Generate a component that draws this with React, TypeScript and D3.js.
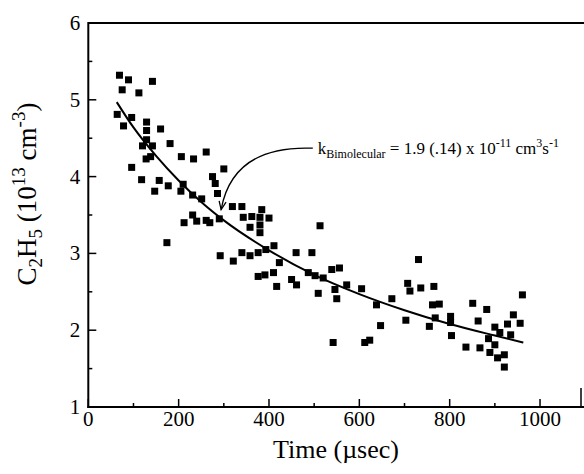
import React from "react";
import * as d3 from "d3";

const W = 584;
const H = 474;

// Measured points: [time (µs), C2H5 (1e13 cm^-3)]
const pointsT = [
  69, 89, 142, 75, 112, 64, 96, 78, 129, 129, 160, 129, 120, 142, 181, 128, 138, 206, 233, 261, 96, 118, 157, 177, 147, 210, 205,
  231, 251, 231, 212, 240, 261, 174,
  300, 275, 281, 286, 319, 340, 384, 343, 362, 380, 400, 380, 358, 380, 269, 290, 513, 292, 321, 340, 358, 376, 393, 411, 423, 460, 495, 376, 391, 410, 417, 450, 461, 487, 502, 520, 539, 556, 572, 509, 546,
  731, 550, 605, 638, 672, 707, 712, 736, 765, 762, 777, 768, 802, 802, 851, 863, 647, 703, 755,
  961, 882, 941, 928, 956, 900, 911, 935, 886, 900, 836, 867, 889, 906, 921, 921,
  804, 542, 612, 623,
];
const pointsV = [
  5.32, 5.26, 5.24, 5.13, 5.09, 4.81, 4.77, 4.66, 4.71, 4.6, 4.62, 4.48, 4.4, 4.4, 4.43, 4.23, 4.26, 4.26, 4.23, 4.32, 4.12, 3.96, 3.95, 3.88, 3.81, 3.9, 3.81,
  3.76, 3.71, 3.5, 3.4, 3.42, 3.43, 3.14,
  4.1, 4.0, 3.91, 3.78, 3.61, 3.61, 3.57, 3.47, 3.48, 3.47, 3.46, 3.37, 3.34, 3.27, 3.4, 3.45, 3.36, 2.97, 2.9, 3.01, 2.97, 3.01, 3.05, 3.1, 2.88, 3.01, 3.01, 2.7, 2.72, 2.75, 2.57, 2.66, 2.59, 2.75, 2.71, 2.68, 2.79, 2.81, 2.59, 2.48, 2.53,
  2.92, 2.41, 2.54, 2.33, 2.41, 2.61, 2.51, 2.55, 2.57, 2.33, 2.34, 2.16, 2.18, 2.1, 2.35, 2.12, 2.06, 2.13, 2.05,
  2.46, 2.27, 2.2, 2.08, 2.09, 2.04, 1.97, 1.94, 1.89, 1.81, 1.78, 1.77, 1.71, 1.64, 1.68, 1.52,
  1.93, 1.84, 1.84, 1.87,
];

// Fit curve
const fitT = [63, 100, 150, 200, 250, 300, 400, 500, 600, 700, 800, 900, 963];
const fitV = [4.97, 4.64, 4.27, 3.95, 3.67, 3.43, 3.04, 2.72, 2.47, 2.26, 2.08, 1.93, 1.84];

const xMajor = [0, 200, 400, 600, 800, 1000];
const xMinor = [100, 300, 500, 700, 900];
const yMajor = [1, 2, 3, 4, 5, 6];
const yMinor = [1.5, 2.5, 3.5, 4.5, 5.5];

// annotation anchors (data space)
const annoTip = [294, 3.57];
const annoStart = [497, 4.37];
const annoCtrl = [320, 4.41];
const annoText = [508, 4.3];

export default function App() {
  const x = d3.scaleLinear().domain([0, 1100]).range([88.3, 585.2]);
  const y = d3.scaleLinear().domain([1, 6]).range([407, 23]);
  const x0 = x(0);
  const yb = y(1);

  const fitData = fitT.map((t, i) => [t, fitV[i]] as [number, number]);
  const line = d3
    .line<[number, number]>()
    .x((d) => x(d[0]))
    .y((d) => y(d[1]))
    .curve(d3.curveMonotoneX);

  const sq = 7;

  const tx = x(annoTip[0]);
  const ty = y(annoTip[1]);
  const sx = x(annoStart[0]);
  const sy = y(annoStart[1]);
  const cx = x(annoCtrl[0]);
  const cy = y(annoCtrl[1]);
  const path = d3.path();
  path.moveTo(sx, sy);
  path.quadraticCurveTo(cx, cy, tx, ty);
  const ang = Math.atan2(ty - cy, tx - cx);
  const ah = 9;
  const a1 = ang + Math.PI - 0.4;
  const a2 = ang + Math.PI + 0.4;

  return (
    <svg width={W} height={H} style={{ display: "block", position: "absolute", left: 0, top: 0 }}>
      <style>{`text, tspan { font-family: "Liberation Serif", "Times New Roman", serif !important; font-weight: normal; }`}</style>
      <rect width={W} height={H} fill="#fff" />
      {/* frame */}
      <line x1={x0} x2={W} y1={y(6)} y2={y(6)} stroke="#000" strokeWidth={2} />
      <line x1={x0} x2={x0} y1={y(6) - 1} y2={yb + 1} stroke="#000" strokeWidth={2} />
      <line x1={x0 - 1} x2={W} y1={yb} y2={yb} stroke="#000" strokeWidth={2} />
      <line x1={581} x2={581} y1={388} y2={yb} stroke="#000" strokeWidth={1.5} />

      {/* x ticks */}
      {xMajor.map((t) => (
        <g key={"xm" + t}>
          <line x1={x(t)} x2={x(t)} y1={yb} y2={yb - 8} stroke="#000" strokeWidth={1.5} />
          <text x={x(t)} y={yb + 19} fontSize={21} textAnchor="middle">
            {t}
          </text>
        </g>
      ))}
      {xMinor.map((t) => (
        <line key={"xn" + t} x1={x(t)} x2={x(t)} y1={yb} y2={yb - 4} stroke="#000" strokeWidth={1.5} />
      ))}
      {/* y ticks */}
      {yMajor.map((v) => (
        <g key={"ym" + v}>
          <line x1={x0} x2={x0 + 8} y1={y(v)} y2={y(v)} stroke="#000" strokeWidth={1.5} />
          <text x={x0 - 8} y={y(v) + 7} fontSize={21} textAnchor="end">
            {v}
          </text>
        </g>
      ))}
      {yMinor.map((v) => (
        <line key={"yn" + v} x1={x0} x2={x0 + 4} y1={y(v)} y2={y(v)} stroke="#000" strokeWidth={1.5} />
      ))}

      {/* points */}
      {pointsT.map((t, i) => (
        <rect key={"p" + i} x={x(t) - sq / 2} y={y(pointsV[i]) - sq / 2} width={sq} height={sq} fill="#000" />
      ))}

      {/* fit */}
      <path d={line(fitData) || ""} fill="none" stroke="#000" strokeWidth={2} />

      {/* annotation */}
      <path d={path.toString()} fill="none" stroke="#000" strokeWidth={1.3} />
      <path
        d={`M${tx + ah * Math.cos(a1)},${ty + ah * Math.sin(a1)}L${tx},${ty}L${tx + ah * Math.cos(a2)},${ty + ah * Math.sin(a2)}`}
        fill="none"
        stroke="#000"
        strokeWidth={1.3}
      />
      <text x={x(annoText[0])} y={y(annoText[1])} fontSize={17}>
        k
        <tspan fontSize={12} dy={4}>
          Bimolecular
        </tspan>
        <tspan dy={-4}> = 1.9 (.14) x 10</tspan>
        <tspan fontSize={12} dy={-7}>
          -11
        </tspan>
        <tspan dy={7}> cm</tspan>
        <tspan fontSize={12} dy={-7}>
          3
        </tspan>
        <tspan dy={7}>s</tspan>
        <tspan fontSize={12} dy={-7}>
          -1
        </tspan>
      </text>

      {/* axis titles */}
      <text x={336} y={458} fontSize={26} textAnchor="middle">
        Time (µsec)
      </text>
      <text transform="translate(36,194) rotate(-90)" fontSize={27} textAnchor="middle">
        C
        <tspan fontSize={19} dy={6}>
          2
        </tspan>
        <tspan dy={-6}>H</tspan>
        <tspan fontSize={19} dy={6}>
          5
        </tspan>
        <tspan dy={-6}> (10</tspan>
        <tspan fontSize={19} dy={-11}>
          13
        </tspan>
        <tspan dy={11}> cm</tspan>
        <tspan fontSize={19} dy={-11}>
          -3
        </tspan>
        <tspan dy={11}>)</tspan>
      </text>
    </svg>
  );
}
